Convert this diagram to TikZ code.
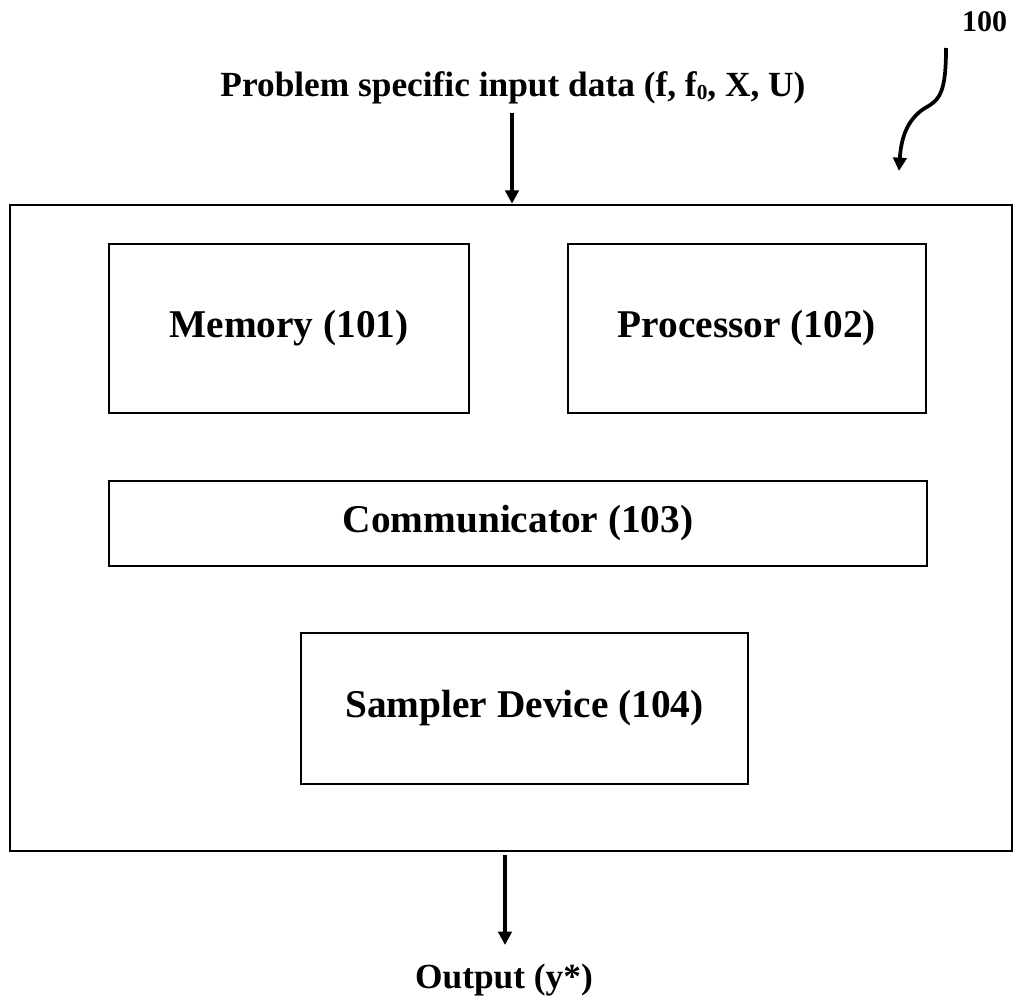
\documentclass[tikz,border=0pt]{standalone}
\usepackage{fontspec}
\setmainfont{Liberation Serif}
\usetikzlibrary{arrows.meta}
\begin{document}
\begin{tikzpicture}[x=0.75pt,y=-0.75pt,
  unitbox/.style={draw, line width=1.5pt, inner sep=0pt, font=\bfseries\fontsize{29.5}{34}\selectfont},
  caption/.style={inner sep=0pt, anchor=base, font=\bfseries\fontsize{26.5}{30}\selectfont},
  arr/.style={line width=3pt, -{Triangle[length=10pt,width=10pt]}}]
\useasboundingbox (0,0) rectangle (1013,999);
\node[draw, line width=1.9pt, minimum width=1002*0.75pt, minimum height=646*0.75pt, inner sep=0pt] (outer) at (511,528) {};
\node[unitbox, minimum width=360*0.75pt, minimum height=169*0.75pt] (mem) at (289,328.5) {Memory (101)};
\node[unitbox, minimum width=358*0.75pt, minimum height=169*0.75pt] (proc) at (747,328.5) {Processor (102)};
\node[unitbox, minimum width=818*0.75pt, minimum height=85*0.75pt] (comm) at (518,523.5) {Communicator (103)};
\node[unitbox, minimum width=447*0.75pt, minimum height=151*0.75pt] (samp) at (524.5,708.5) {Sampler Device (104)};
\node[caption] (in) at (513,96) {Problem specific input data (f, f\raisebox{-0.2ex}{\fontsize{16}{18}\selectfont 0}, X, U)};
\node[caption] (out) at (504,988) {Output (y*)};
\node[caption, font=\bfseries\fontsize{22.5}{26}\selectfont] (ref) at (984.5,32) {100};
\coordinate (inTop) at (512,113);
\coordinate (outBot) at (505,945);
\draw[arr] (inTop) -- (outer.north -| inTop);
\draw[arr] (outer.south -| outBot) ++(0,3) -- (outBot);
\coordinate (c1) at (946,48);
\coordinate (c2) at (925,108);
\coordinate (c3) at (899,171);
\draw[line width=2.8pt, -{Triangle[length=10pt,width=10pt]}] (c1) .. controls (946,92) and (940,100) .. (c2) .. controls (906,120) and (901,140) .. (c3);
\end{tikzpicture}
\end{document}
